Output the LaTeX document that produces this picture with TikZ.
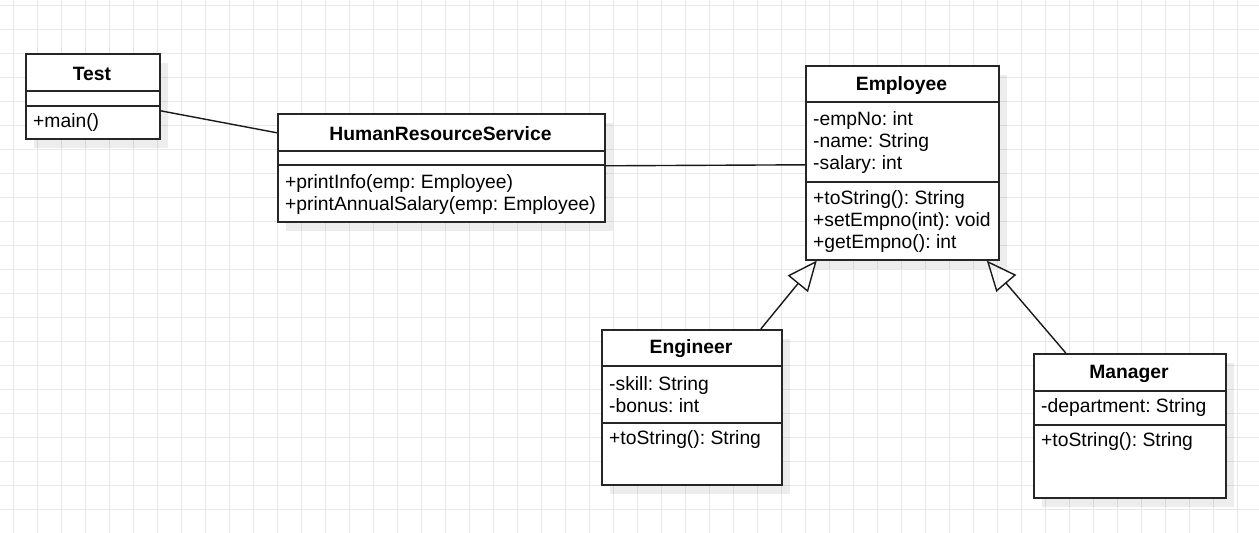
\documentclass[tikz,border=0pt]{standalone}
\usepackage{fontspec}
\setmainfont{Liberation Sans}
\usetikzlibrary{arrows.meta,shadows}
\frenchspacing

\begin{document}
\begin{tikzpicture}[x=1pt,y=-1pt,
    umlbox/.style={draw=black!85, line width=1.6pt, fill=white, inner sep=0pt, anchor=north west,
      drop shadow={shadow xshift=8pt, shadow yshift=-9pt, fill=black, opacity=0.07}},
    umltitle/.style={font={\fontsize{19.3}{22}\selectfont\bfseries}, inner sep=0pt, yshift=-2pt},
    umltext/.style={font={\fontsize{19.3}{22}\selectfont}, anchor=west, align=left, inner sep=0pt, yshift=-2pt},
    umlsep/.style={draw=black!85, line width=1.6pt},
    assoc/.style={draw=black!90, line width=1.4pt},
    inherit/.style={draw=black!90, line width=1.4pt, -{Triangle[open, length=30pt, width=26pt]}},
    gridline/.style={draw=black!9, line width=0.8pt}]

       \pgfmathsetmacro{\pageW}{1259}
       \pgfmathsetmacro{\pageH}{533}

       %%背景格線 每24px一格
       \fill[white] (0,0) rectangle (\pageW,\pageH);
       \useasboundingbox (0,0) rectangle (\pageW,\pageH);
       \foreach \gx in {13,37,...,1259} \draw[gridline] (\gx,0) -- (\gx,\pageH);
       \foreach \gy in {5,29,...,533} \draw[gridline] (0,\gy) -- (\pageW,\gy);

       %%Test
       \node[umlbox, minimum width=134pt, minimum height=85pt] (test) at (25,53) {};
       \node[umltitle] (testT) at (92,72) {Test};
       \draw[umlsep] (test.west |- 0,91) -- (test.east |- 0,91);
       \draw[umlsep] (test.west |- 0,106) -- (test.east |- 0,106);
       \node[umltext] (testM) at (33,121) {+main()};

       %%HumanResourceService
       \node[umlbox, minimum width=327pt, minimum height=108pt] (hrs) at (277,113) {};
       \node[umltitle] (hrsT) at (440.5,132) {HumanResourceService};
       \draw[umlsep] (hrs.west |- 0,151) -- (hrs.east |- 0,151);
       \draw[umlsep] (hrs.west |- 0,165) -- (hrs.east |- 0,165);
       \node[umltext] (hrsM) at (285,192.5) {+printInfo(emp: Employee)\\+printAnnualSalary(emp: Employee)};

       %%Employee
       \node[umlbox, minimum width=193pt, minimum height=194pt] (emp) at (805,65) {};
       \node[umltitle] (empT) at (901.5,84) {Employee};
       \draw[umlsep] (emp.west |- 0,102) -- (emp.east |- 0,102);
       \draw[umlsep] (emp.west |- 0,182) -- (emp.east |- 0,182);
       \node[umltext] (empA) at (813,140.5) {-empNo: int\\-name: String\\-salary: int};
       \node[umltext] (empM) at (813,220) {+toString(): String\\+setEmpno(int): void\\+getEmpno(): int};

       %%Engineer
       \node[umlbox, minimum width=180pt, minimum height=155pt] (eng) at (601,329) {};
       \node[umltitle] (engT) at (691,347) {Engineer};
       \draw[umlsep] (eng.west |- 0,366) -- (eng.east |- 0,366);
       \draw[umlsep] (eng.west |- 0,423) -- (eng.east |- 0,423);
       \node[umltext] (engA) at (609,393) {-skill: String\\-bonus: int};
       \node[umltext] (engM) at (609,438) {+toString(): String};

       %%Manager
       \node[umlbox, minimum width=192pt, minimum height=144pt] (mgr) at (1033,353) {};
       \node[umltitle] (mgrT) at (1129,372) {Manager};
       \draw[umlsep] (mgr.west |- 0,391) -- (mgr.east |- 0,391);
       \draw[umlsep] (mgr.west |- 0,425) -- (mgr.east |- 0,425);
       \node[umltext] (mgrA) at (1041,406) {-department: String};
       \node[umltext] (mgrM) at (1041,440) {+toString(): String};

       %%關聯與繼承
       \draw[assoc] ([yshift=-14.5pt]test.east) -- ([yshift=35pt]hrs.west);
       \draw[assoc] ([yshift=2pt]hrs.east) -- ([yshift=-2pt]emp.west);
       \draw[inherit] ([xshift=69pt]eng.north) -- ([xshift=-85.5pt]emp.south);
       \draw[inherit] ([xshift=-64pt]mgr.north) -- ([xshift=84.5pt]emp.south);
    \end{tikzpicture}
\end{document}
